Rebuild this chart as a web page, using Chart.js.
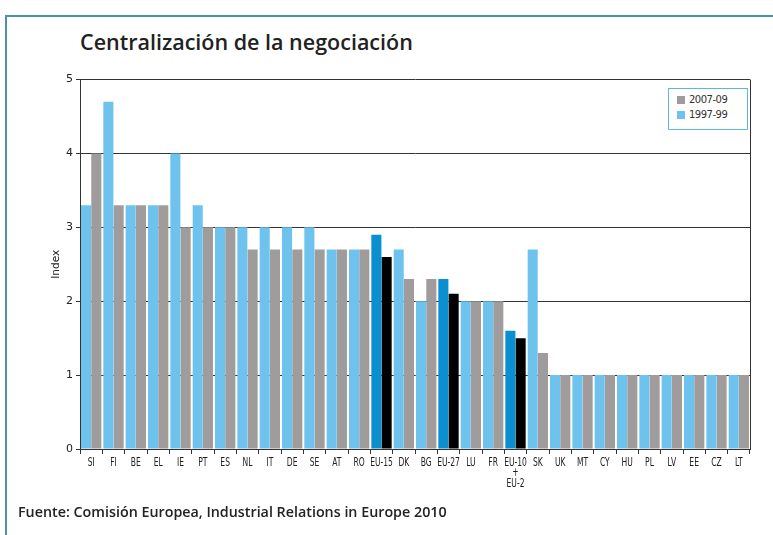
<!DOCTYPE html>
<html>
<head>
<meta charset="utf-8">
<script src="https://cdn.jsdelivr.net/npm/chart.js@4"></script>
<style>
  body { margin: 0; background: #fff; width: 773px; height: 535px; overflow: hidden; position: relative; }
  .marco { position: absolute; left: 5px; top: 15px; width: 780px; height: 540px; border-left: 2px solid #4a93a6; border-top: 2px solid #4a93a6; }
  h1 { position: absolute; left: 80px; top: 27px; margin: 0; font: 600 21.5px "Open Sans", sans-serif; color: #222; }
  .fuente { position: absolute; left: 18px; top: 502px; font: 600 14.3px "Open Sans", sans-serif; color: #222; }
  .grafico { position: absolute; left: 40px; top: 70px; width: 720px; height: 435px; }
  .leyenda { position: absolute; left: 668px; top: 88px; width: 78px; height: 40px; border: 1px solid #5fb8d8; font: 10px "DejaVu Sans", sans-serif; color: #333; background: #fff; }
  .leyenda div { margin: 5px 0 0 8px; line-height: 12px; letter-spacing: -0.5px; }
  .leyenda span { display: inline-block; width: 8px; height: 8px; margin-right: 4px; vertical-align: -1px; }
</style>
</head>
<body>
<div class="marco"></div>
<h1>Centralización de la negociación</h1>
<div class="grafico"><canvas id="centralizacion"></canvas></div>
<div class="leyenda">
  <div><span style="background:#a09c9c"></span>2007-09</div>
  <div style="margin-top:3px"><span style="background:#6ec3ee"></span>1997-99</div>
</div>
<div class="fuente">Fuente: Comisión Europea, Industrial Relations in Europe 2010</div>
<script>
// Datos
const paises = ['SI', 'FI', 'BE', 'EL', 'IE', 'PT', 'ES', 'NL', 'IT', 'DE', 'SE', 'AT', 'RO', 'EU-15', 'DK', 'BG', 'EU-27', 'LU', 'FR', ['EU-10', '+', 'EU-2'], 'SK', 'UK', 'MT', 'CY', 'HU', 'PL', 'LV', 'EE', 'CZ', 'LT'];
const valores1997 = [3.3, 4.7, 3.3, 3.3, 4.0, 3.3, 3.0, 3.0, 3.0, 3.0, 3.0, 2.7, 2.7, 2.9, 2.7, 2.0, 2.3, 2.0, 2.0, 1.6, 2.7, 1, 1, 1, 1, 1, 1, 1, 1, 1];
const valores2007 = [4.0, 3.3, 3.3, 3.3, 3.0, 3.0, 3.0, 2.7, 2.7, 2.7, 2.7, 2.7, 2.7, 2.6, 2.3, 2.3, 2.1, 2.0, 2.0, 1.5, 1.3, 1, 1, 1, 1, 1, 1, 1, 1, 1];
const ticksY = [0, 1, 2, 3, 4, 5];

const esUE = (l) => (Array.isArray(l) ? l[0] : l).startsWith('EU');
const colores1997 = paises.map(p => esUE(p) ? '#0a8fd0' : '#6ec3ee');
const colores2007 = paises.map(p => esUE(p) ? '#000000' : '#a09c9c');

const fuenteEje = { family: '"DejaVu Sans", sans-serif', size: 11 };

// borde derecho y etiquetas estrechas del eje x (la fuente original es condensada)
const extras = {
  id: 'extras',
  afterDraw(chart) {
    const a = chart.chartArea, c = chart.ctx, x = chart.scales.x;
    c.save();
    c.strokeStyle = '#333';
    c.lineWidth = 1;
    c.beginPath();
    c.moveTo(a.right + 0.5, a.top);
    c.lineTo(a.right + 0.5, a.bottom);
    c.stroke();
    c.fillStyle = '#222';
    c.font = '11.5px "DejaVu Sans", sans-serif';
    c.textAlign = 'center';
    c.textBaseline = 'middle';
    paises.forEach((p, i) => {
      const lineas = Array.isArray(p) ? p : [p];
      const px = x.getPixelForValue(i);
      lineas.forEach((t, j) => {
        c.save();
        c.translate(px, a.bottom + 14 + j * 10.5);
        c.scale(0.66, 1);
        c.fillText(t, 0, 0);
        c.restore();
      });
    });
    c.restore();
  }
};

const ctx = document.getElementById('centralizacion').getContext('2d');
new Chart(ctx, {
  type: 'bar',
  data: {
    labels: paises,
    datasets: [
      { label: '1997-99', data: valores1997, backgroundColor: colores1997, barPercentage: 0.98, categoryPercentage: 0.92 },
      { label: '2007-09', data: valores2007, backgroundColor: colores2007, barPercentage: 0.98, categoryPercentage: 0.92 }
    ]
  },
  options: {
    responsive: true,
    maintainAspectRatio: false,
    animation: false,
    layout: { padding: { top: 7, right: 10 } },
    plugins: { legend: { display: false }, tooltip: { enabled: false } },
    scales: {
      x: {
        afterFit: (s) => { s.height = 56; },
        grid: { drawOnChartArea: false, offset: true, tickLength: 5, color: '#333' },
        border: { color: '#333' },
        ticks: { display: false, autoSkip: false }
      },
      y: {
        min: 0,
        max: 5,
        afterFit: (s) => { s.width = 40; },
        afterBuildTicks: (s) => { s.ticks = ticksY.map(v => ({ value: v })); },
        grid: { color: '#333', tickLength: 4 },
        border: { color: '#333' },
        ticks: { font: { ...fuenteEje, size: 11 }, color: '#222', padding: 3 },
        title: { display: true, text: 'Index', font: { ...fuenteEje, size: 10.5 }, color: '#222', padding: { top: 10, bottom: 0 } }
      }
    }
  },
  plugins: [extras]
});
</script>
</body>
</html>
